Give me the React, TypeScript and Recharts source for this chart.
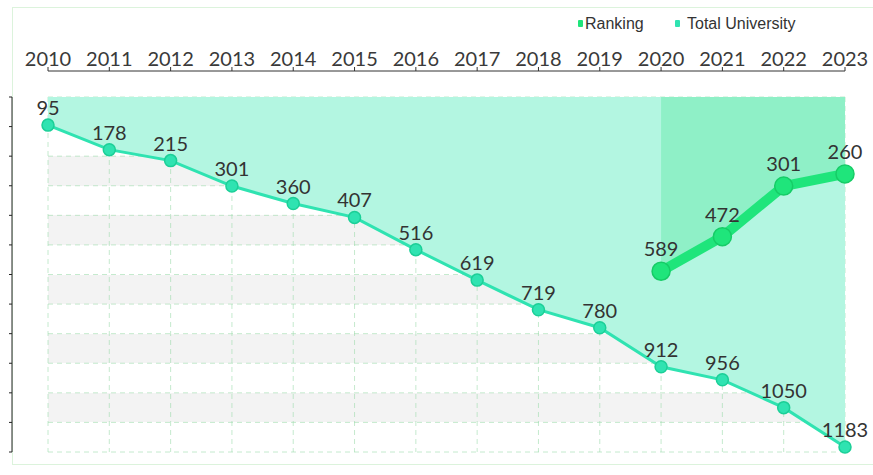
import { Area, CartesianGrid, ComposedChart, LabelList, Legend, Line, XAxis, YAxis } from 'recharts';

// 연도 / 값 데이터
const years = [2010, 2011, 2012, 2013, 2014, 2015, 2016, 2017, 2018, 2019, 2020, 2021, 2022, 2023];
const totalUniversity = [95, 178, 215, 301, 360, 407, 516, 619, 719, 780, 912, 956, 1050, 1183];
const ranking = [null, null, null, null, null, null, null, null, null, null, 589, 472, 301, 260];
const rankTicks = [0, 100, 200, 300, 400, 500, 600, 700, 800, 900, 1000, 1100, 1200];

const TOTAL_COLOR = '#2fe3b1';
const RANK_COLOR = '#1fe57b';
const FONT = 'Lato, "Open Sans", sans-serif';

const data = years.map((year, i) => ({
  year,
  total: totalUniversity[i],
  ranking: ranking[i],
}));

// 범례: Ranking 먼저, 그 다음 Total University
function LegendBox({ payload }: { payload?: any[] }) {
  const items = [...(payload ?? [])]
    .filter((p) => p.type !== 'none')
    .sort((a, b) => String(a.value).localeCompare(String(b.value)));
  return (
    <div style={{ display: 'flex', fontFamily: '"Liberation Sans", Arial, sans-serif', fontSize: 16, color: '#333', lineHeight: '19px', whiteSpace: 'nowrap' }}>
      {items.map((item, i) => (
        <div key={item.value} style={{ display: 'flex', alignItems: 'center', width: i === 0 ? 97 : 'auto' }}>
          <span style={{ display: 'inline-block', width: 5, height: 7, borderRadius: 1, background: item.color, marginRight: i === 0 ? 2 : 7 }} />
          <span>{item.value}</span>
        </div>
      ))}
    </div>
  );
}

export default function App() {
  return (
    <div style={{ position: 'absolute', left: 0, top: 0, width: 873, height: 475, background: '#fff' }}>
      <div style={{ position: 'absolute', left: 12, top: 7, width: 860, height: 456, border: '1px solid #dcf3dc' }} />
      <div style={{ position: 'absolute', left: 0, top: 0 }}>
        <ComposedChart
          width={873}
          height={475}
          data={data}
          margin={{ top: 26, right: 28, bottom: 23, left: 0 }}
          style={{ fontFamily: FONT }}
        >
          {/* 플롯 위쪽 여백용 빈 축 */}
          <XAxis xAxisId="gap" orientation="top" dataKey="year" type="number" domain={[2010, 2023]} ticks={years}
            height={26} tick={false} tickLine={false} axisLine={false} />
          <XAxis xAxisId="yr" orientation="top" dataKey="year" type="number" domain={[2010, 2023]} ticks={years}
            height={45} tickSize={4} tickMargin={1} interval={0}
            axisLine={{ stroke: '#333' }} tickLine={{ stroke: '#333' }}
            tick={{ fill: '#3a3a3a', fontSize: 20, fontFamily: FONT }} />
          <YAxis yAxisId="gap" domain={[0, 1200]} reversed width={36} tick={false} tickLine={false} axisLine={false} />
          <YAxis yAxisId="y" domain={[0, 1200]} ticks={rankTicks} reversed width={12} tickSize={3}
            axisLine={{ stroke: '#222' }} tickLine={{ stroke: '#222' }} tickFormatter={() => ''} />

          {/* 배경 줄무늬 (선 없이) */}
          <CartesianGrid xAxisId="yr" yAxisId="y" stroke="none" horizontalFill={['#f3f3f3', '#ffffff']} />

          {/* 면적 채우기: 위쪽(0)부터 선까지 */}
          <Area xAxisId="yr" yAxisId="y" dataKey="total" type="linear" stroke="none" fill="#b3f6e1" fillOpacity={1}
            legendType="none" dot={false} activeDot={false} isAnimationActive={false} />
          <Area xAxisId="yr" yAxisId="y" dataKey="ranking" type="linear" stroke="none" fill="#8ff0c7" fillOpacity={1}
            legendType="none" dot={false} activeDot={false} isAnimationActive={false} />

          {/* 점선 격자 */}
          <CartesianGrid xAxisId="yr" yAxisId="y" stroke="#9fdcae" strokeOpacity={0.6} strokeDasharray="5 4" />

          <Legend verticalAlign="middle" align="center" content={<LegendBox />}
            wrapperStyle={{ top: 14, left: 578, width: 290 }} />

          <Line
            xAxisId="yr"
            yAxisId="y"
            dataKey="total"
            name="Total University"
            type="linear"
            stroke={TOTAL_COLOR}
            strokeWidth={3}
            dot={{ r: 6, fill: TOTAL_COLOR, stroke: '#1bcf97', strokeWidth: 1.5 }}
            activeDot={false}
            isAnimationActive={false}
          >
            <LabelList dataKey="total" position="top" offset={10} fill="#333" fontSize={20} fontFamily={FONT} />
          </Line>
          <Line
            xAxisId="yr"
            yAxisId="y"
            dataKey="ranking"
            name="Ranking"
            type="linear"
            stroke={RANK_COLOR}
            strokeWidth={10}
            strokeLinejoin="round"
            dot={{ r: 9, fill: RANK_COLOR, stroke: '#16cc66', strokeWidth: 1.5 }}
            activeDot={false}
            isAnimationActive={false}
          >
            <LabelList dataKey="ranking" position="top" offset={15} fill="#333" fontSize={20} fontFamily={FONT} />
          </Line>
        </ComposedChart>
      </div>
    </div>
  );
}
